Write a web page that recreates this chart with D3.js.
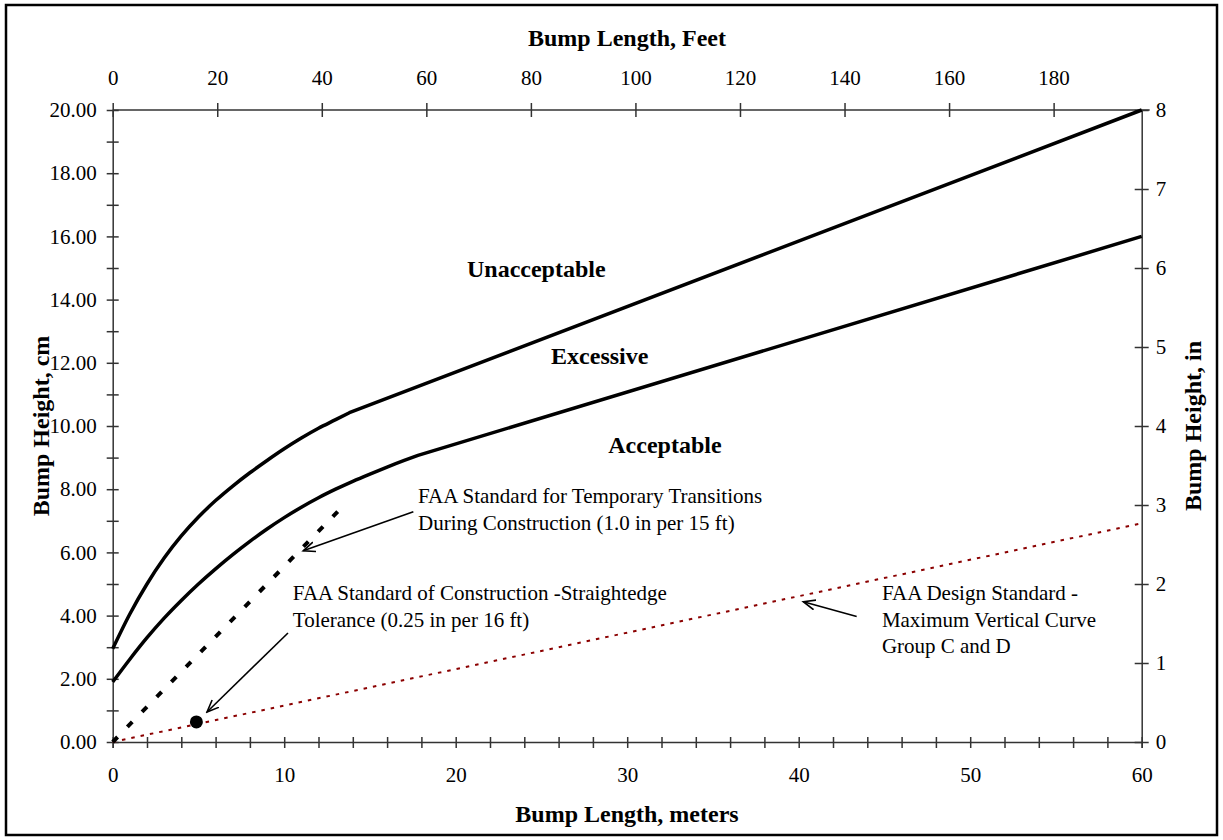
<!DOCTYPE html>
<html>
<head>
<meta charset="utf-8">
<script src="https://cdn.jsdelivr.net/npm/d3@7"></script>
<style>
  body { margin: 0; background: #fff; }
  svg { display: block; font-family: "Liberation Serif", "Times New Roman", serif; }
  .tick text { font-family: "Liberation Serif", "Times New Roman", serif; font-size: 21px; fill: #000; }
  .axis path, .axis line { stroke: #333; stroke-width: 1.5px; }
  .title { font-size: 24px; font-weight: bold; }
  .zone { font-size: 24px; font-weight: bold; }
  .note { font-size: 21px; }
</style>
</head>
<body>
<svg width="1223" height="840"></svg>
<script>
// bump length in metres, bump height in cm
const upperX = [0, 1, 2, 3, 4, 5, 6, 7, 8, 9, 10, 11, 12, 13, 13.8, 60];
const upperY = [2.95, 4.05, 5.0, 5.82, 6.52, 7.12, 7.64, 8.1, 8.52, 8.91, 9.28, 9.62, 9.93, 10.2, 10.42, 20.0];
const upperKink = 14; // index where the curve turns straight
const lowerX = [0, 1, 2, 3, 4, 5, 6, 7, 8, 9, 10, 11, 12, 13, 14, 15, 16, 17, 17.8, 60];
const lowerY = [1.9, 2.62, 3.3, 3.92, 4.48, 5.0, 5.48, 5.93, 6.35, 6.74, 7.1, 7.43, 7.73, 8.0, 8.25, 8.48, 8.7, 8.91, 9.07, 16.0];
const lowerKink = 18;
const tempX = [0, 13.3];         // 1.0 in per 15 ft
const tempY = [0, 7.39];
const designX = [0, 60];         // max vertical curve
const designY = [0, 6.92];
const edgePoint = [4.88, 0.635]; // 0.25 in per 16 ft

const feetTicks = [0, 20, 40, 60, 80, 100, 120, 140, 160, 180];
const meterTicks = d3.range(0, 61, 2);
const cmTicks = d3.range(0, 21, 1);
const inTicks = d3.range(0, 9, 1);

const zones = [
  { text: "Unacceptable", x: 24.7, y: 14.7 },
  { text: "Excessive", x: 28.4, y: 11.95 },
  { text: "Acceptable", x: 32.2, y: 9.15 }
];
const notes = [
  { lines: ["FAA Standard for Temporary Transitions", "During Construction (1.0 in per 15 ft)"], x: 17.8, y: 7.56, from: [17.53, 7.29], to: [11.11, 6.05] },
  { lines: ["FAA Standard of Construction -Straightedge", "Tolerance (0.25 in per 16 ft)"], x: 10.5, y: 4.5, from: [10.22, 3.45], to: [5.5, 0.95] },
  { lines: ["FAA Design Standard -", "Maximum Vertical Curve", "Group C and D"], x: 44.85, y: 4.5, from: [43.38, 3.97], to: [40.27, 4.44] }
];

const svg = d3.select("svg");
const W = 1223, H = 840;
const pLeft = 112.7, pRight = 1141.7, pTop = 110, pBottom = 742;

svg.append("rect")
  .attr("x", 6).attr("y", 5).attr("width", W - 12).attr("height", H - 10)
  .attr("fill", "none").attr("stroke", "#000").attr("stroke-width", 2.5);

const x = d3.scaleLinear().domain([0, 60]).range([pLeft, pRight]);
const xFt = d3.scaleLinear().domain([0, 60 / 0.3048]).range([pLeft, pRight]);
const y = d3.scaleLinear().domain([0, 20]).range([pBottom, pTop]);
const yIn = d3.scaleLinear().domain([0, 8]).range([pBottom, pTop]);

svg.append("defs").append("marker")
  .attr("id", "arrow")
  .attr("viewBox", "-12 -6 14 12")
  .attr("refX", 0).attr("refY", 0)
  .attr("markerWidth", 14).attr("markerHeight", 12)
  .attr("markerUnits", "userSpaceOnUse")
  .attr("orient", "auto")
  .append("path")
  .attr("d", "M-12,-5L0,0L-12,5")
  .attr("fill", "none").attr("stroke", "#000").attr("stroke-width", 1.6);

// axes, ticks cross the axis line
const gB = svg.append("g").attr("class", "axis").attr("transform", `translate(0,${pBottom})`)
  .call(d3.axisBottom(x).tickValues(meterTicks).tickSize(6).tickPadding(19)
    .tickFormat(d => d % 10 === 0 ? d : ""));
gB.selectAll(".tick line").attr("y1", -5);

const gT = svg.append("g").attr("class", "axis").attr("transform", `translate(0,${pTop})`)
  .call(d3.axisTop(xFt).tickValues(feetTicks).tickSize(7).tickPadding(18).tickSizeOuter(0));
gT.selectAll(".tick line").attr("y1", 7);
gT.select(".domain").attr("d", `M${pLeft},0H${pRight + 8}`);

const gL = svg.append("g").attr("class", "axis").attr("transform", `translate(${pLeft},0)`)
  .call(d3.axisLeft(y).tickValues(cmTicks).tickSize(6).tickPadding(10).tickSizeOuter(0)
    .tickFormat(d => d % 2 === 0 ? d.toFixed(2) : ""));
gL.selectAll(".tick line").attr("x1", 6);

const gR = svg.append("g").attr("class", "axis").attr("transform", `translate(${pRight},0)`)
  .call(d3.axisRight(yIn).tickValues(inTicks).tickSize(7).tickPadding(7).tickSizeOuter(0));
gR.selectAll(".tick line").attr("x1", -7);

svg.selectAll(".axis").attr("font-family", null).attr("font-size", null);
svg.selectAll(".axis .domain").attr("stroke", "#333").attr("stroke-width", 1.5);

// axis titles
svg.append("text").attr("class", "title").attr("x", 627).attr("y", 46)
  .attr("text-anchor", "middle").text("Bump Length, Feet");
svg.append("text").attr("class", "title").attr("x", 627).attr("y", 822)
  .attr("text-anchor", "middle").text("Bump Length, meters");
svg.append("text").attr("class", "title").attr("transform", "translate(49,426) rotate(-90)")
  .attr("text-anchor", "middle").text("Bump Height, cm");
svg.append("text").attr("class", "title").attr("transform", "translate(1201,426) rotate(-90)")
  .attr("text-anchor", "middle").text("Bump Height, in");

const line = d3.line().x(d => x(d[0])).y(d => y(d[1]));
const smooth = d3.line().x(d => x(d[0])).y(d => y(d[1])).curve(d3.curveMonotoneX);

svg.append("path").datum(designX.map((v, i) => [v, designY[i]]))
  .attr("d", line).attr("fill", "none")
  .attr("stroke", "#8b0000").attr("stroke-width", 2).attr("stroke-dasharray", "3.5,6");

svg.append("path").datum(tempX.map((v, i) => [v, tempY[i]]))
  .attr("d", line).attr("fill", "none")
  .attr("stroke", "#000").attr("stroke-width", 4).attr("stroke-dasharray", "7,14");

// curved part up to the kink, straight run after it
[[upperX, upperY, upperKink], [lowerX, lowerY, lowerKink]].forEach(([xs, ys, k]) => {
  const pts = xs.map((v, i) => [v, ys[i]]);
  const d = smooth(pts.slice(0, k + 1)) + line(pts.slice(k)).replace(/^M/, "L");
  svg.append("path").attr("d", d).attr("fill", "none")
    .attr("stroke", "#000").attr("stroke-width", 3.5).attr("stroke-linejoin", "round");
});

svg.append("circle").attr("cx", x(edgePoint[0])).attr("cy", y(edgePoint[1]))
  .attr("r", 6.5).attr("fill", "#000");

svg.selectAll(".zone").data(zones).enter().append("text")
  .attr("class", "zone").attr("text-anchor", "middle")
  .attr("x", d => x(d.x)).attr("y", d => y(d.y)).text(d => d.text);

notes.forEach(n => {
  const t = svg.append("text").attr("class", "note")
    .attr("x", x(n.x)).attr("y", y(n.y));
  n.lines.forEach((s, i) => {
    t.append("tspan").attr("x", x(n.x)).attr("dy", i === 0 ? 0 : 26.7).text(s);
  });
  svg.append("line")
    .attr("x1", x(n.from[0])).attr("y1", y(n.from[1]))
    .attr("x2", x(n.to[0])).attr("y2", y(n.to[1]))
    .attr("stroke", "#000").attr("stroke-width", 1.6)
    .attr("marker-end", "url(#arrow)");
});
</script>
</body>
</html>
